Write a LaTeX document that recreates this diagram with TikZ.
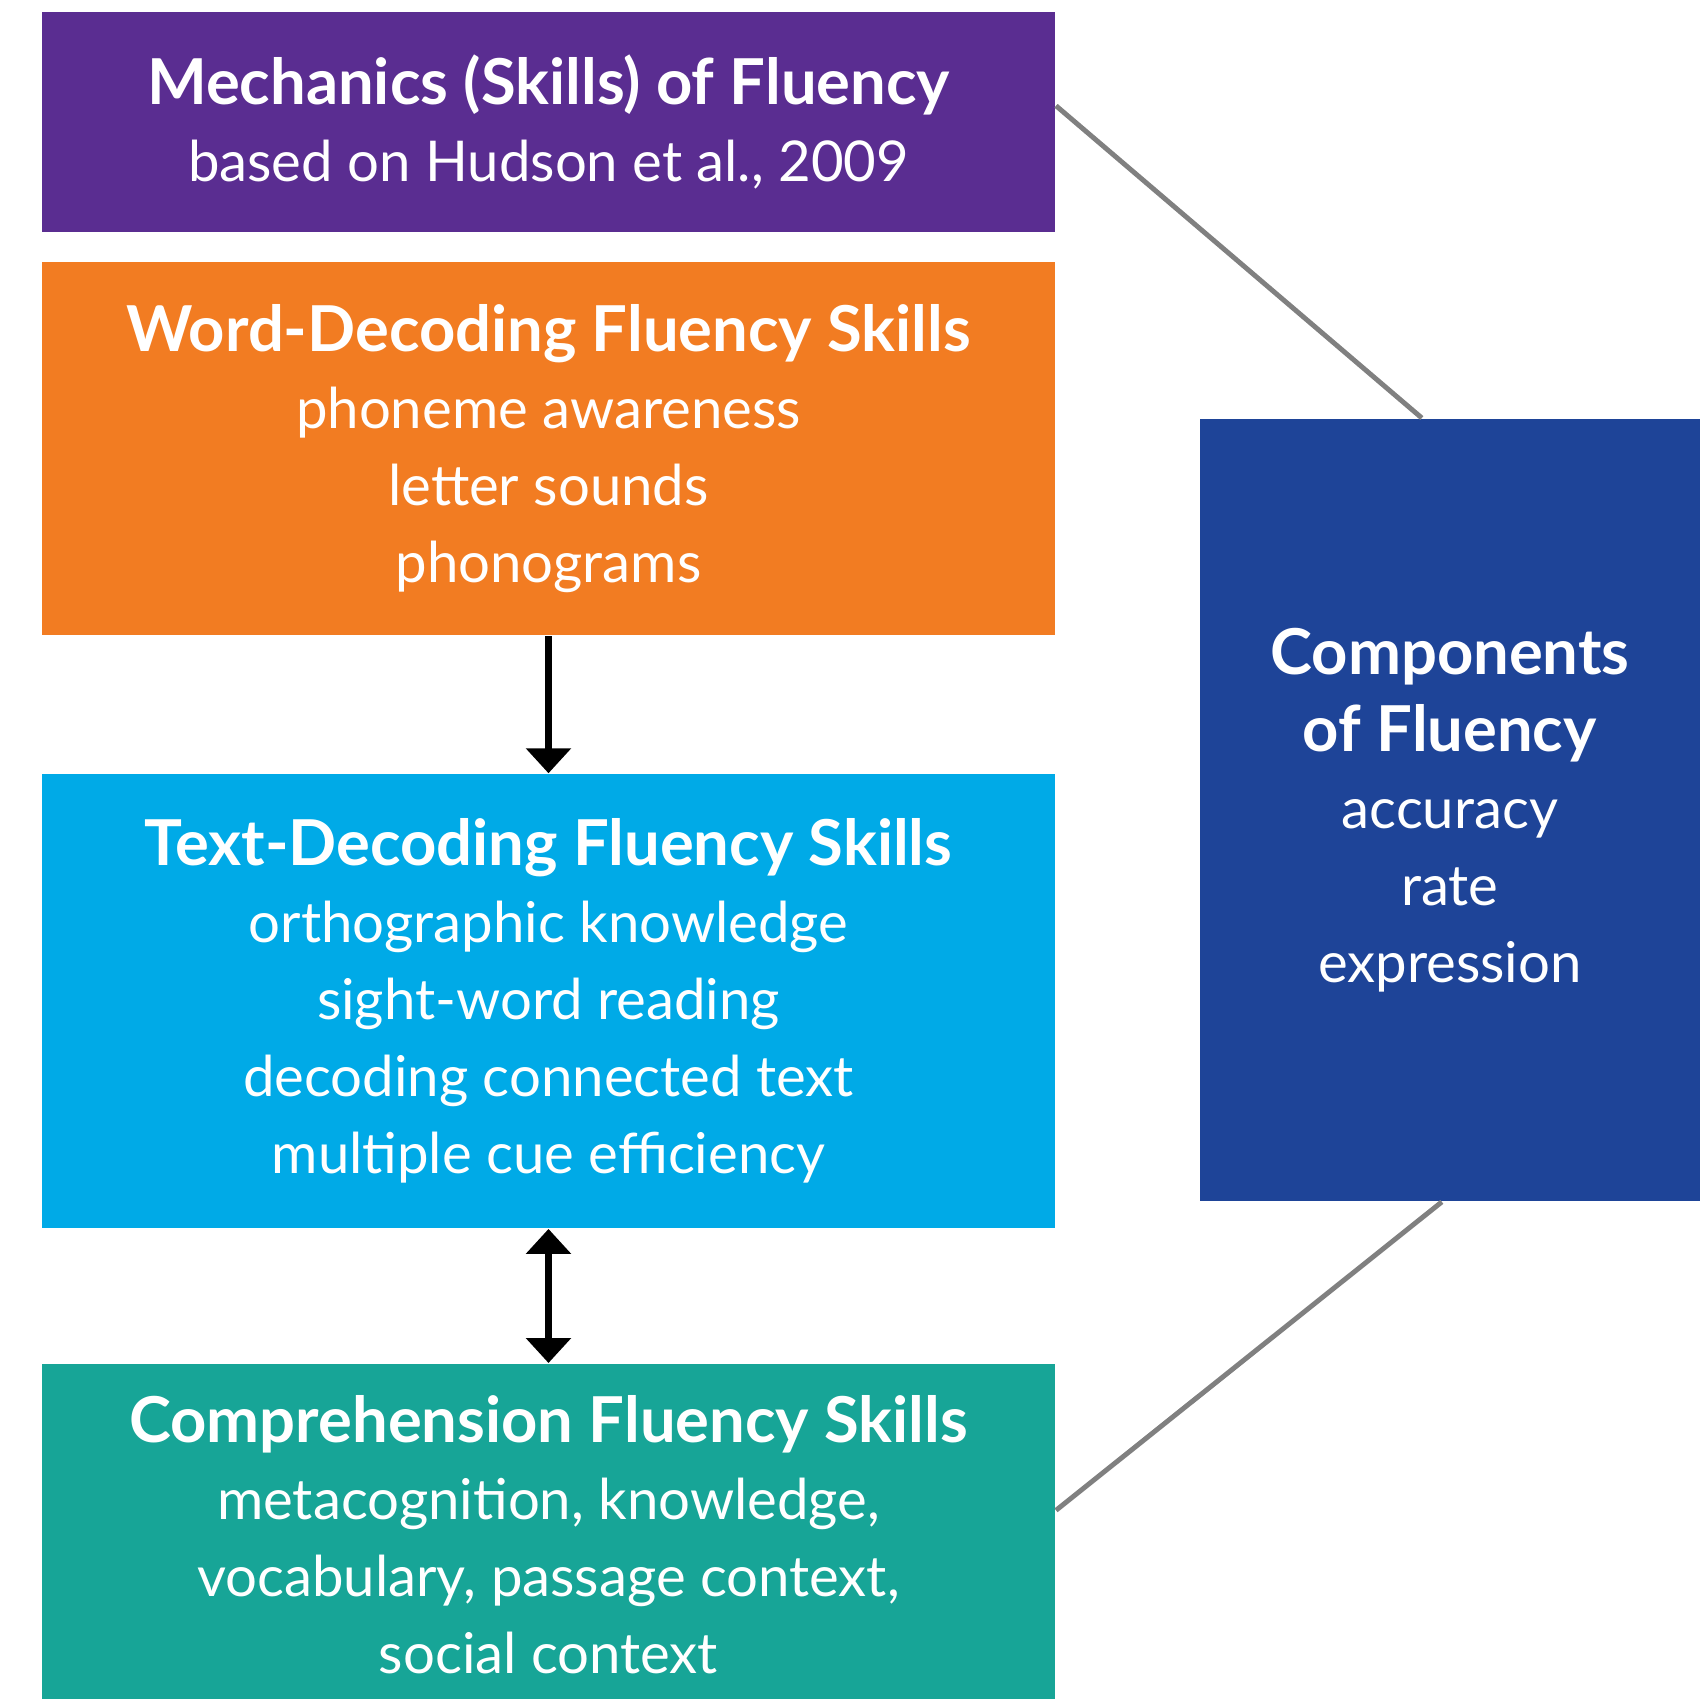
\documentclass[tikz,border=0pt]{standalone}
\usepackage{fontspec}
\setmainfont{Lato}
\usetikzlibrary{positioning,arrows.meta}
\definecolor{mechPurple}{HTML}{5A2D91}
\definecolor{wordOrange}{HTML}{F27C22}
\definecolor{textBlue}{HTML}{00AAE7}
\definecolor{compTeal}{HTML}{17A597}
\definecolor{fluBlue}{HTML}{1E4498}
\newcommand{\skillhead}[1]{{\fontsize{18}{21.9}\selectfont\bfseries #1}}
\tikzset{
  skill/.style={rectangle, inner sep=0pt, minimum width=10.13cm, text=white, align=center,
    font=\fontsize{16}{21.9}\selectfont},
  link/.style={draw=gray, line width=1.4pt},
  applyOp/.style={-{Triangle[width=4.4mm,length=2.5mm]}, line width=2pt},
  bothOp/.style={{Triangle[width=4.4mm,length=2.5mm]}-{Triangle[width=4.4mm,length=2.5mm]}, line width=2pt}
}

\begin{document}
\begin{tikzpicture}[x=0.01cm, y=-0.01cm]
      \useasboundingbox (0,0) rectangle (1702,1699);
      \node [skill, fill=mechPurple, minimum height=2.2cm, anchor=north west] (mech) at (41,11)
        {\skillhead{Mechanics (Skills) of Fluency}\\based on Hudson et al., 2009};
      \node [skill, fill=wordOrange, minimum height=3.73cm, below=0.29cm of mech] (word)
        {\skillhead{Word-Decoding Fluency Skills}\\phoneme awareness\\letter sounds\\phonograms};
      \node [skill, fill=textBlue, minimum height=4.54cm, below=1.37cm of word] (text)
        {\skillhead{Text-Decoding Fluency Skills}\\orthographic knowledge\\sight-word reading\\decoding connected text\\multiple cue efficiency};
      \node [skill, fill=compTeal, minimum height=3.41cm, below=1.34cm of text] (comp)
        {\skillhead{Comprehension Fluency Skills}\\metacognition, knowledge,\\vocabulary, passage context,\\social context};
      \node [skill, fill=fluBlue, minimum width=5cm, minimum height=7.82cm, anchor=north west] (fluency) at (1199,418)
        {\skillhead{Components}\\\skillhead{of Fluency}\\accuracy\\rate\\expression};
      \draw [applyOp] (word) -- (text);
      \draw [bothOp] (text) -- (comp);
      \draw [link] ([yshift=0.16cm]mech.east) -- ([xshift=-0.28cm]fluency.north);
      \draw [link] ([xshift=-0.08cm]fluency.south) -- ([yshift=0.24cm]comp.east);
    \end{tikzpicture}
\end{document}
